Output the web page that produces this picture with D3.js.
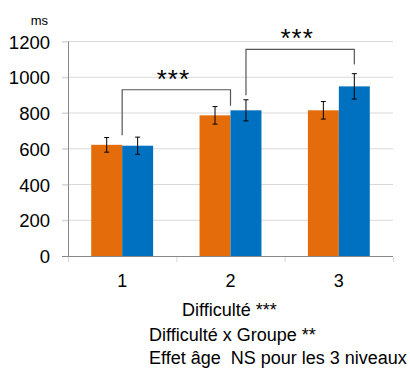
<!DOCTYPE html>
<html><head><meta charset="utf-8">
<script src="https://cdn.jsdelivr.net/npm/d3@7"></script>
<style>body{margin:0;background:#fff}svg{display:block}text{font-family:"Liberation Sans",Arial,sans-serif;fill:#000;white-space:pre}</style>
</head><body>
<svg id="c" width="410" height="372"></svg>
<script>
const categories = ["1", "2", "3"];
const seriesNames = ["Groupe A", "Groupe B"];
const seriesA = [622, 787, 815];
const seriesB = [617, 815, 949];
const errA = [41, 49, 49];
const errB = [48, 59, 71];
const yTicks = [0, 200, 400, 600, 800, 1000, 1200];
const yUnit = "ms";
// brackets: [fromCat, fromSeries(-1 = centre), fromY, toCat, toSeries, toY, topY, label]
const brackets = [
  {c1: "1", s1: -1, y1: 675, c2: "2", s2: -1, y2: 841, top: 930, label: "***"},
  {c1: "2", s1: 1, y1: 900, c2: "3", s2: 1, y2: 1072, top: 1156, label: "***"}
];
const notes = ["Difficulté ***", "Difficulté x Groupe **", "Effet âge  NS pour les 3 niveaux"];
const colors = ["#E46C0A", "#0070C0"];

const svg = d3.select("#c");
const x0 = d3.scaleBand().domain(categories).range([68, 393]).padding(0);
const x1 = d3.scaleBand().domain([0, 1]).range([0, x0.bandwidth()]).paddingInner(0).paddingOuter(0.75);
const y = d3.scaleLinear().domain([0, 1200]).range([256, 41.5]);

// grid
svg.append("g").selectAll("line").data(yTicks.filter(d => d > 0)).join("line")
  .attr("x1", 62).attr("x2", 393).attr("y1", d => y(d)).attr("y2", d => y(d))
  .attr("stroke", "#d9d9d9").attr("stroke-width", 1.2);

// y axis
const ya = svg.append("g").attr("transform", "translate(68,0)")
  .call(d3.axisLeft(y).tickValues(yTicks).tickFormat(d3.format("d")).tickSize(6).tickPadding(12));
ya.select(".domain").remove();
ya.selectAll(".tick line").attr("stroke", "#d9d9d9").attr("stroke-width", 1.2);
ya.selectAll(".tick text").attr("font-size", 18.5).attr("font-family", "Liberation Sans, Arial, sans-serif").attr("fill", "#000").attr("dy", "0.36em");
svg.append("line").attr("x1", 68.5).attr("x2", 68.5).attr("y1", y(1200)).attr("y2", 256)
  .attr("stroke", "#888").attr("stroke-width", 1);

svg.append("text").attr("x", 48).attr("y", 25).attr("text-anchor", "end").attr("font-size", 13).text(yUnit);

// bars
const data = categories.map((c, i) => ({c, vals: [seriesA[i], seriesB[i]], errs: [errA[i], errB[i]]}));
const groups = svg.append("g").selectAll("g").data(data).join("g")
  .attr("transform", d => `translate(${x0(d.c)},0)`);
groups.selectAll("rect").data(d => d.vals.map((v, s) => ({v, s}))).join("rect")
  .attr("x", d => x1(d.s)).attr("width", x1.bandwidth())
  .attr("y", d => y(d.v)).attr("height", d => 256 - y(d.v))
  .attr("fill", d => colors[d.s]);

// error bars
const eb = groups.selectAll("g.err").data(d => d.vals.map((v, s) => ({v, e: d.errs[s], s}))).join("g").attr("class", "err");
eb.append("line").attr("x1", d => x1(d.s) + x1.bandwidth() / 2).attr("x2", d => x1(d.s) + x1.bandwidth() / 2)
  .attr("y1", d => y(d.v + d.e)).attr("y2", d => y(d.v - d.e)).attr("stroke", "#000").attr("stroke-width", 1);
eb.selectAll("line.cap").data(d => [d.v + d.e, d.v - d.e].map(t => ({t, s: d.s}))).join("line").attr("class", "cap")
  .attr("x1", d => x1(d.s) + x1.bandwidth() / 2 - 2.5).attr("x2", d => x1(d.s) + x1.bandwidth() / 2 + 2.5)
  .attr("y1", d => y(d.t)).attr("y2", d => y(d.t)).attr("stroke", "#000").attr("stroke-width", 1);

// x axis
svg.append("line").attr("x1", 62).attr("x2", 393).attr("y1", 256.5).attr("y2", 256.5).attr("stroke", "#888");
const xa = svg.append("g").attr("transform", "translate(0,256)")
  .call(d3.axisBottom(x0).tickSize(0).tickPadding(18));
xa.select(".domain").remove();
xa.selectAll(".tick text").attr("font-size", 18).attr("font-family", "Liberation Sans, Arial, sans-serif").attr("fill", "#000");
svg.append("g").selectAll("line").data(categories.concat(["end"])).join("line")
  .attr("x1", (d, i) => 68 + i * x0.step() + 0.5).attr("x2", (d, i) => 68 + i * x0.step() + 0.5)
  .attr("y1", 257).attr("y2", 262).attr("stroke", "#d9d9d9");

// brackets
function bx(c, s) { return x0(c) + (s < 0 ? x0.bandwidth() / 2 : x1(s) + x1.bandwidth() / 2); }
brackets.forEach(b => {
  const xa1 = bx(b.c1, b.s1), xa2 = bx(b.c2, b.s2);
  svg.append("path").attr("d", `M${xa1},${y(b.y1)}V${y(b.top)}H${xa2}V${y(b.y2)}`)
    .attr("fill", "none").attr("stroke", "#555").attr("stroke-width", 1.2);
  svg.append("text").attr("x", (xa1 + xa2) / 2 - 3).attr("y", y(b.top) - 2)
    .attr("text-anchor", "middle").attr("font-size", 26).attr("letter-spacing", 1).text(b.label);
});

// notes
const noteX = [182, 149, 149];
const noteY = [316, 341, 364];
notes.forEach((t, i) => svg.append("text").attr("x", noteX[i]).attr("y", noteY[i]).attr("font-size", 18).attr("xml:space", "preserve").text(t));
</script>
</body></html>
